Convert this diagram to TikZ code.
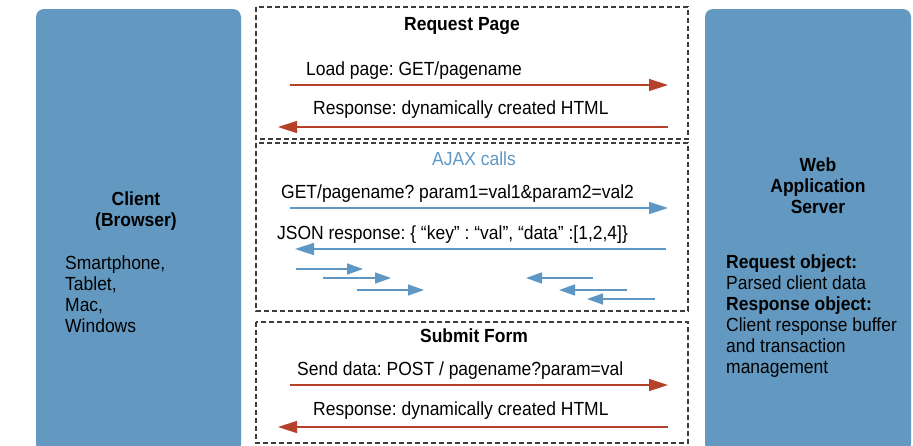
\documentclass[tikz,border=0pt]{standalone}
\usepackage{fontspec}
\setmainfont[FakeStretch=0.92]{Liberation Sans}
\frenchspacing
\usetikzlibrary{arrows.meta}
\definecolor{boxblue}{RGB}{99,153,192}
\definecolor{arrred}{RGB}{181,65,43}
\definecolor{arrblue}{RGB}{94,151,196}
\definecolor{dashgray}{RGB}{60,60,60}
\tikzset{
  sidebox/.style={fill=boxblue, draw=none, rounded corners=8pt},
  groupbox/.style={draw=dashgray, line width=1.1pt, dash pattern=on 5pt off 3pt},
  txt/.style={font=\fontsize{19}{21}\selectfont, inner sep=0pt, anchor=west},
  ttl/.style={font=\fontsize{19}{21}\selectfont\bfseries, inner sep=0pt},
  redarr/.style={draw=arrred, line width=1.5pt, -{Triangle[length=19pt,width=12pt]}},
  bluearr/.style={draw=arrblue, line width=1.5pt, -{Triangle[length=19pt,width=12pt]}},
  smallarr/.style={draw=arrblue, line width=1.5pt, -{Triangle[length=16pt,width=11pt]}},
}
\begin{document}
\begin{tikzpicture}[x=1pt,y=-1pt]
\useasboundingbox (0,0) rectangle (913,445);
% side boxes
\path[sidebox] (36,9) rectangle (241,452);
\path[sidebox] (705,9) rectangle (911,452);
% group boxes
\draw[groupbox] (256,7) rectangle (688,139);
\draw[groupbox] (256,143) rectangle (688,311);
\draw[groupbox] (256,322) rectangle (688,443);

% client text
\node[ttl, align=center] (client) at (136,211) {Client\\(Browser)};
\node[txt, align=left, anchor=north west] (devices) at (65,256) {Smartphone,\\Tablet,\\Mac,\\Windows};

% server text
\node[ttl, align=center] (server) at (818,186) {Web\\Application\\Server};
\node[txt, align=left, anchor=north west] (objs) at (726,255) {\textbf{Request object:}\\Parsed client data\\\textbf{Response object:}\\Client response buffer\\and transaction\\management};

% request page
\node[ttl] (rp) at (462,26) {Request Page};
\node[txt] (load) at (306,71) {Load page: GET/pagename};
\coordinate (l1) at (290,85); \coordinate (r1) at (668,85);
\draw[redarr] (l1) -- (r1);
\node[txt] (resp1) at (313,110) {Response: dynamically created HTML};
\coordinate (l2) at (278,127); \coordinate (r2) at (668,127);
\draw[redarr] (r2) -- (l2);

% ajax
\node[ttl, font=\fontsize{19}{21}\selectfont, text=arrblue] (ajax) at (474,159) {AJAX calls};
\node[txt] (get) at (281,194) {GET/pagename? param1=val1\&param2=val2};
\coordinate (l3) at (290,208); \coordinate (r3) at (668,208);
\draw[bluearr] (l3) -- (r3);
\node[txt] (json) at (277,235) {JSON response: \{ “key” : “val”, “data” :[1,2,4]\}};
\coordinate (l4) at (295,249); \coordinate (r4) at (666,249);
\draw[bluearr] (r4) -- (l4);
\coordinate (a1s) at (296,269); \coordinate (a1e) at (363,269);
\coordinate (a2s) at (323,278); \coordinate (a2e) at (391,278);
\coordinate (a3s) at (357,290); \coordinate (a3e) at (424,290);
\coordinate (b1s) at (593,278); \coordinate (b1e) at (526,278);
\coordinate (b2s) at (627,290); \coordinate (b2e) at (559,290);
\coordinate (b3s) at (655,299); \coordinate (b3e) at (587,299);
\draw[smallarr] (a1s) -- (a1e);
\draw[smallarr] (a2s) -- (a2e);
\draw[smallarr] (a3s) -- (a3e);
\draw[smallarr] (b1s) -- (b1e);
\draw[smallarr] (b2s) -- (b2e);
\draw[smallarr] (b3s) -- (b3e);

% submit form
\node[ttl] (sf) at (474,336) {Submit Form};
\node[txt] (send) at (297,371) {Send data: POST / pagename?param=val};
\coordinate (l5) at (290,385); \coordinate (r5) at (668,385);
\draw[redarr] (l5) -- (r5);
\node[txt] (resp2) at (313,411) {Response: dynamically created HTML};
\coordinate (l6) at (278,427); \coordinate (r6) at (668,427);
\draw[redarr] (r6) -- (l6);
\end{tikzpicture}
\end{document}
